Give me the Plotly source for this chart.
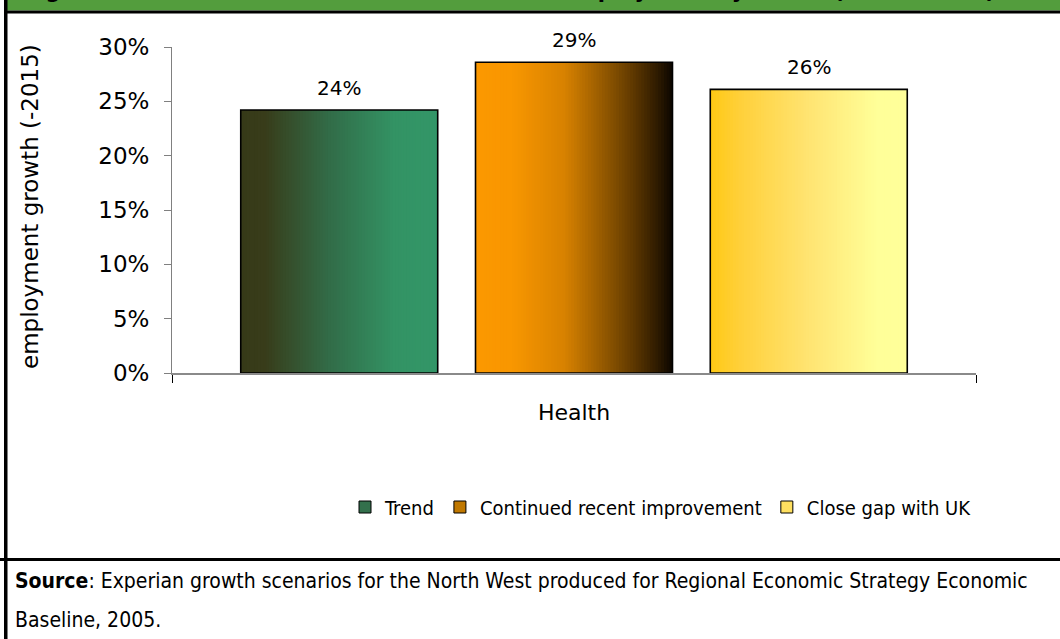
import plotly.graph_objects as go

# ---- data ----
category = "Health"
scenarios = ["Trend", "Continued recent improvement", "Close gap with UK"]
growth = [0.242, 0.286, 0.261]
y_ticks = [0, 0.05, 0.10, 0.15, 0.20, 0.25, 0.30]

# ---- styling ----
FONT = "DejaVu Sans"
NARROW = "DejaVu Sans Condensed, DejaVu Sans"
W, H = 1060, 639
PLOT_L, PLOT_R, PLOT_T, PLOT_B = 172, 976, 47, 373

# horizontal colour ramps for each bar (position 0 = left edge, 1 = right edge)
gradients = [
    [(0.0, "#363a18"), (0.12, "#383c1a"), (0.45, "#326c48"), (0.78, "#339364"), (1.0, "#339668")],
    [(0.0, "#fb9800"), (0.18, "#f99700"), (0.45, "#d88200"), (0.6, "#a66400"),
     (0.78, "#663d00"), (0.92, "#301c00"), (1.0, "#0c0600")],
    [(0.0, "#ffc914"), (0.15, "#ffd03a"), (0.5, "#ffe472"), (0.85, "#ffff99"), (1.0, "#ffff99")],
]
legend_colors = ["#33704c", "#c07800", "#ffe060"]

BAR_W = 0.245      # bar width in category units
BAR_GAP = 0.047    # gap between neighbouring bars
N_SLICES = 70


def hex_rgb(h):
    h = h.lstrip("#")
    return tuple(int(h[i:i + 2], 16) for i in (0, 2, 4))


def ramp(stops, t):
    for (t0, c0), (t1, c1) in zip(stops[:-1], stops[1:]):
        if t0 <= t <= t1:
            f = 0 if t1 == t0 else (t - t0) / (t1 - t0)
            a, b = hex_rgb(c0), hex_rgb(c1)
            return "rgb({},{},{})".format(*[round(a[k] + (b[k] - a[k]) * f) for k in range(3)])
    return stops[-1][1]


def px_x(x):
    return (x - PLOT_L) / (PLOT_R - PLOT_L)


def px_y(y):
    return (PLOT_B - y) / (PLOT_B - PLOT_T)


fig = go.Figure()

group_w = len(scenarios) * BAR_W + (len(scenarios) - 1) * BAR_GAP
start = -group_w / 2
annotations = []

for i, (name, val) in enumerate(zip(scenarios, growth)):
    left = start + i * (BAR_W + BAR_GAP)
    sw = BAR_W / N_SLICES
    offsets = [left + k * sw for k in range(N_SLICES)]
    widths = [sw * 1.6] * (N_SLICES - 1) + [sw]
    colors = [ramp(gradients[i], (k + 0.5) / N_SLICES) for k in range(N_SLICES)]
    # gradient fill built from thin vertical slices
    fig.add_trace(go.Bar(
        x=[category] * N_SLICES, y=[val] * N_SLICES, offset=offsets, width=widths,
        marker=dict(color=colors, line=dict(width=0)),
        showlegend=False, hoverinfo="skip",
    ))
    # outline of the bar
    fig.add_trace(go.Bar(
        x=[category], y=[val], offset=[left], width=[BAR_W], name=name,
        marker=dict(color="rgba(0,0,0,0)", line=dict(color="#000000", width=1.6)),
        showlegend=False, hovertemplate="%{y:.0%}<extra>" + name + "</extra>",
    ))
    # legend entry
    fig.add_trace(go.Bar(
        x=[category], y=[None], name=name,
        marker=dict(color=legend_colors[i], line=dict(color="#000000", width=1)),
        showlegend=True,
    ))
    annotations.append(dict(
        x=left + BAR_W / 2, y=val, xref="x", yref="y",
        text=f"{round(val * 100)}%", showarrow=False,
        yanchor="bottom", yshift=8,
        font=dict(family=FONT, size=20, color="#000000"),
    ))

annotations += [
    # figure heading in the green band; only its lower edge falls inside the page
    dict(x=px_x(22), y=px_y(5.5), xref="paper", yref="paper", xanchor="left", yanchor="bottom",
         showarrow=False, align="left",
         text="<b>Figure 15: Health sector scenarios – forecast employment by sector (2005 – 2015)</b>",
         font=dict(family=FONT, size=21, color="#000000")),
    # source note beneath the chart
    dict(x=px_x(13), y=px_y(581), xref="paper", yref="paper", xanchor="left", yanchor="middle",
         showarrow=False, align="left",
         text="<b>Source</b>: Experian growth scenarios for the North West produced for "
              "Regional Economic Strategy Economic",
         font=dict(family=NARROW, size=21, color="#000000")),
    dict(x=px_x(13), y=px_y(620), xref="paper", yref="paper", xanchor="left", yanchor="middle",
         showarrow=False, align="left", text="Baseline, 2005.",
         font=dict(family=NARROW, size=21, color="#000000")),
    dict(x=px_x(30), y=px_y(207), xref="paper", yref="paper", xanchor="center", yanchor="middle",
         showarrow=False, textangle=-90, text="employment growth (-2015)",
         font=dict(family=FONT, size=23, color="#000000")),
]


def rect(x0, y0, x1, y1, color, layer="above"):
    return dict(type="rect", xref="paper", yref="paper", layer=layer,
                x0=px_x(x0), x1=px_x(x1), y0=px_y(y0), y1=px_y(y1),
                fillcolor=color, line=dict(width=0))


shapes = [
    rect(4, 0, W, 10.5, "#539d3d", layer="below"),   # header band
    rect(4, 10.5, W, 13.5, "#000000"),               # rule under header
    rect(4, 0, 7.5, H, "#000000"),                   # left frame edge
    rect(0, 558, W, 561, "#000000"),                 # rule above the source note
]

fig.update_layout(
    width=W, height=H,
    margin=dict(l=PLOT_L, r=W - PLOT_R, t=PLOT_T, b=H - PLOT_B, pad=0),
    paper_bgcolor="#ffffff", plot_bgcolor="#ffffff",
    barmode="overlay",
    showlegend=True,
    legend=dict(orientation="h", x=px_x(661), y=px_y(507), xanchor="center", yanchor="middle",
                font=dict(family=NARROW, size=20, color="#000000"),
                itemwidth=30, traceorder="normal", bgcolor="rgba(0,0,0,0)"),
    annotations=annotations,
    shapes=shapes,
    font=dict(family=FONT, color="#000000"),
)

fig.update_xaxes(
    type="category", range=[-0.5, 0.5], tickson="boundaries",
    showline=True, linecolor="#8a8a8a", linewidth=2,
    ticks="outside", ticklen=8, tickcolor="#000000", tickwidth=1,
    ticklabelstandoff=19,
    tickfont=dict(family=FONT, size=22, color="#000000"),
    showgrid=False, zeroline=False, fixedrange=True,
)
fig.update_yaxes(
    range=[0, 0.30], tickvals=y_ticks, tickformat=".0%",
    showline=True, linecolor="#808080", linewidth=1,
    ticks="outside", ticklen=7, tickcolor="#808080", tickwidth=1,
    ticklabelstandoff=10,
    tickfont=dict(family=FONT, size=23, color="#000000"),
    showgrid=False, zeroline=False, fixedrange=True,
)

fig.write_html("out.html")
